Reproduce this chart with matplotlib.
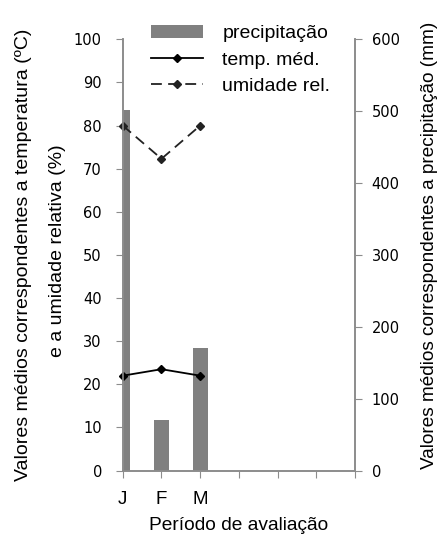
import matplotlib
matplotlib.use('Agg')
import matplotlib.pyplot as plt
import numpy as np

# monthly values (Jan, Feb, Mar)
months = ['J', 'F', 'M']
precip = [502, 70, 170]          # mm, right axis
temp = [22.0, 23.5, 22.0]        # ºC, left axis
humidity = [80.0, 72.3, 80.0]    # %, left axis

n_slots = 6  # x axis has room for 6 intervals, only 3 months filled

grey = '#808080'
axis_grey = '#8c8c8c'
label_font = 'Liberation Sans'
tick_font = 'DejaVu Sans'

fig = plt.figure(figsize=(4.4, 5.39), dpi=100)
ax = fig.add_axes([0.279, 0.127, 0.528, 0.800])
ax2 = ax.twinx()

x = np.arange(len(months))

# bars on the secondary (precipitation) axis
ax2.bar(x, precip, width=0.39, color=grey, zorder=1, label='precipitação')
ax2.set_ylim(0, 600)
ax2.set_yticks(np.arange(0, 601, 100))

# lines on the main axis, drawn above the bars
ax.set_zorder(ax2.get_zorder() + 1)
ax.patch.set_visible(False)
ax.plot(x, temp, color='black', lw=1.3, marker='D', markersize=4,
        clip_on=False, label='temp. méd.')
ax.plot(x, humidity, color='#222222', lw=1.3, ls=(0, (6, 3.5)), marker='D',
        markersize=4, clip_on=False, label='umidade rel.')

ax.set_ylim(0, 100)
ax.set_yticks(np.arange(0, 101, 10))
ax.set_xlim(0, n_slots)
ax.set_xticks(np.arange(0, n_slots + 1))
ax.set_xticklabels(months + [''] * (n_slots + 1 - len(months)),
                   fontsize=13.5, fontfamily=label_font)

for a in (ax, ax2):
    a.spines['top'].set_visible(False)
    for s in ('left', 'right', 'bottom'):
        a.spines[s].set_color(axis_grey)
        a.spines[s].set_linewidth(1.2)

ax.tick_params(axis='y', direction='out', length=5, color=axis_grey,
               pad=10, labelsize=10.5)
ax.tick_params(axis='x', direction='out', length=5, color=axis_grey,
               pad=10)
ax2.tick_params(axis='y', direction='out', length=5, color=axis_grey,
                pad=7, labelsize=10.5)
for lbl in ax.get_yticklabels() + ax2.get_yticklabels():
    lbl.set_fontfamily(tick_font)

ax.set_xlabel('Período de avaliação', fontsize=13.8, fontfamily=label_font,
              labelpad=6)

# two line y label on the left, one on the right
fig.text(0.053, 0.527, 'Valores médios correspondentes a temperatura (ºC)',
         rotation=90, ha='center', va='center', fontsize=14,
         fontfamily=label_font)
fig.text(0.130, 0.534, 'e a umidade relativa (%)',
         rotation=90, ha='center', va='center', fontsize=14,
         fontfamily=label_font)
fig.text(0.977, 0.545, 'Valores médios correspondentes a precipitação (mm)',
         rotation=90, ha='center', va='center', fontsize=13.7,
         fontfamily=label_font)

h1, l1 = ax2.get_legend_handles_labels()
h2, l2 = ax.get_legend_handles_labels()
leg = fig.legend(h1 + h2, l1 + l2, loc='upper left',
                 bbox_to_anchor=(0.320, 0.972), frameon=False,
                 handlelength=2.7, handletextpad=1.0, labelspacing=0.45,
                 borderpad=0, prop={'family': label_font, 'size': 14})

fig.savefig('out.png', dpi=100)
